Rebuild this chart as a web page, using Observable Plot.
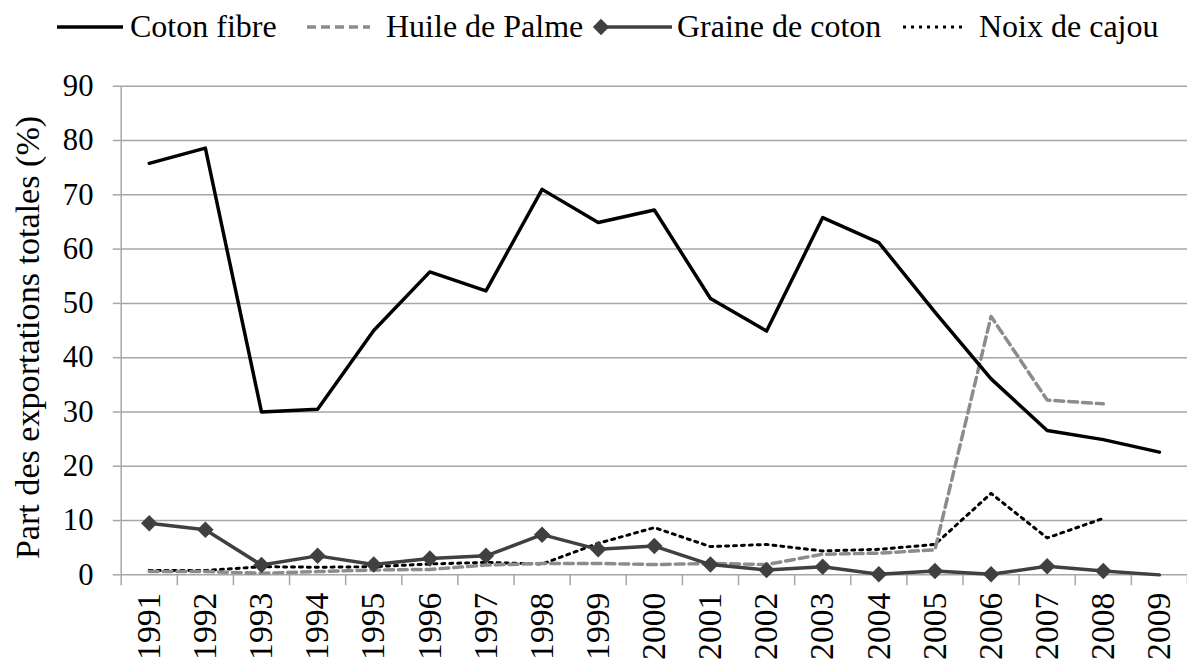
<!DOCTYPE html>
<html>
<head>
<meta charset="utf-8">
<script src="https://cdn.jsdelivr.net/npm/d3@7"></script>
<script src="https://cdn.jsdelivr.net/npm/@observablehq/plot@0.6"></script>
<style>
  html, body { margin: 0; padding: 0; background: #fff; overflow: hidden; width: 1187px; height: 672px; }
  #legend { position: relative; height: 60px; width: 1187px; font-family: "Liberation Serif", "Times New Roman", "DejaVu Serif", serif; font-size: 32px; color: #000; }
  #legend .sw { position: absolute; top: 17px; }
  #legend .lb { position: absolute; top: 10px; line-height: 32px; white-space: nowrap; }
  #chart svg { display: block; }
</style>
</head>
<body>
<div id="legend"></div>
<div id="chart"></div>
<script>
// ---- data ----
const years = [1991, 1992, 1993, 1994, 1995, 1996, 1997, 1998, 1999, 2000,
               2001, 2002, 2003, 2004, 2005, 2006, 2007, 2008, 2009];
const cotonFibre  = [75.8, 78.6, 30.0, 30.5, 45.0, 55.8, 52.3, 71.0, 64.9, 67.2,
                     50.9, 44.9, 65.8, 61.2, 48.4, 36.1, 26.6, 24.9, 22.6];
const huilePalme  = [0.6, 0.6, 0.3, 0.6, 0.9, 1.0, 1.8, 2.1, 2.1, 1.9,
                     2.1, 1.9, 3.8, 4.0, 4.6, 47.6, 32.2, 31.5, null];
const graineCoton = [9.5, 8.3, 1.8, 3.5, 1.9, 3.0, 3.5, 7.4, 4.7, 5.3,
                     1.9, 0.9, 1.5, 0.1, 0.7, 0.1, 1.6, 0.7, 0];
const noixCajou   = [0.8, 0.8, 1.5, 1.4, 1.5, 2.0, 2.3, 2.0, 5.8, 8.7,
                     5.2, 5.6, 4.4, 4.7, 5.6, 15.0, 6.8, 10.4, null];
const seriesNames = ["Coton fibre", "Huile de Palme", "Graine de coton", "Noix de cajou"];
const yTicks = [0, 10, 20, 30, 40, 50, 60, 70, 80, 90];
const yLabel = "Part des exportations totales (%)";

// category edges (between years) for the x tick marks
const edges = years.map(y => y - 0.5).concat([years[years.length - 1] + 0.5]);

const serifFont = "'Liberation Serif', 'Times New Roman', 'DejaVu Serif', serif";
const grid = "#a6a6a6";
const styles = {
  "Coton fibre":     {stroke: "#000", strokeWidth: 3.5},
  "Huile de Palme":  {stroke: "#8c8c8c", strokeWidth: 3.5, strokeDasharray: "9,5"},
  "Graine de coton": {stroke: "#404040", strokeWidth: 3.5},
  "Noix de cajou":   {stroke: "#000", strokeWidth: 3, strokeDasharray: "3,5"}
};

// ---- legend ----
const legend = document.getElementById("legend");
const legendPos = [
  {sw: 57, w: 66, lb: 130},
  {sw: 307, w: 63, lb: 386},
  {sw: 592, w: 80, lb: 677},
  {sw: 903, w: 62, lb: 979}
];
seriesNames.forEach((name, i) => {
  const p = legendPos[i];
  const s = styles[name];
  const svg = d3.create("svg").attr("class", "sw").attr("width", p.w).attr("height", 20)
    .style("left", p.sw + "px");
  svg.append("line").attr("x1", name === "Graine de coton" ? 9 : 0).attr("x2", p.w)
    .attr("y1", 10).attr("y2", 10)
    .attr("stroke", s.stroke).attr("stroke-width", s.strokeWidth)
    .attr("stroke-dasharray", s.strokeDasharray || null);
  if (name === "Graine de coton") {
    svg.append("path").attr("d", d3.symbol(d3.symbolDiamond2, 170)())
      .attr("transform", "translate(9,10)").attr("fill", "#404040");
  }
  legend.appendChild(svg.node());
  const lb = document.createElement("span");
  lb.className = "lb";
  lb.style.left = p.lb + "px";
  lb.textContent = name;
  legend.appendChild(lb);
});

// ---- chart ----
const chart = Plot.plot({
  width: 1200,
  height: 612,
  marginLeft: 122,
  marginRight: 0,
  marginTop: 26,
  marginBottom: 92,
  style: {fontFamily: serifFont, fontSize: "31px", color: "#000", background: "#fff", overflow: "visible"},
  x: {type: "linear", domain: [edges[0], edges[edges.length - 1]]},
  y: {domain: [0, 90]},
  marks: [
    Plot.gridY(yTicks, {stroke: grid, strokeOpacity: 1, strokeWidth: 1.5}),
    Plot.axisY(yTicks, {tickSize: 8, tickPadding: 20, stroke: grid, strokeWidth: 1.5, fill: "#000", label: null, fontSize: 31}),
    Plot.ruleX([edges[0]], {y1: 0, y2: 90, stroke: grid, strokeWidth: 1.5}),
    Plot.axisX(edges, {tickSize: 11, tickFormat: () => "", stroke: grid, strokeWidth: 1.5, label: null}),
    Plot.axisX(years, {tickSize: 0, tickPadding: 18, tickRotate: -90, tickFormat: d => String(d), fill: "#000", label: null, fontSize: 34}),
    Plot.text([yLabel], {frameAnchor: "left", textAnchor: "middle", lineAnchor: "middle", rotate: -90, dx: -94, dy: 7, fontSize: 34.5, fill: "#000"}),
    Plot.line(years, {x: years, y: noixCajou, ...styles["Noix de cajou"]}),
    Plot.line(years, {x: years, y: huilePalme, ...styles["Huile de Palme"]}),
    Plot.line(years, {x: years, y: graineCoton, ...styles["Graine de coton"]}),
    Plot.dot(years, {x: years, y: graineCoton, symbol: "diamond2", r: 7.5, fill: "#404040", stroke: null,
                     filter: years.map(y => y !== 2009)}),
    Plot.line(years, {x: years, y: cotonFibre, ...styles["Coton fibre"]})
  ]
});
document.getElementById("chart").appendChild(chart);
</script>
</body>
</html>
